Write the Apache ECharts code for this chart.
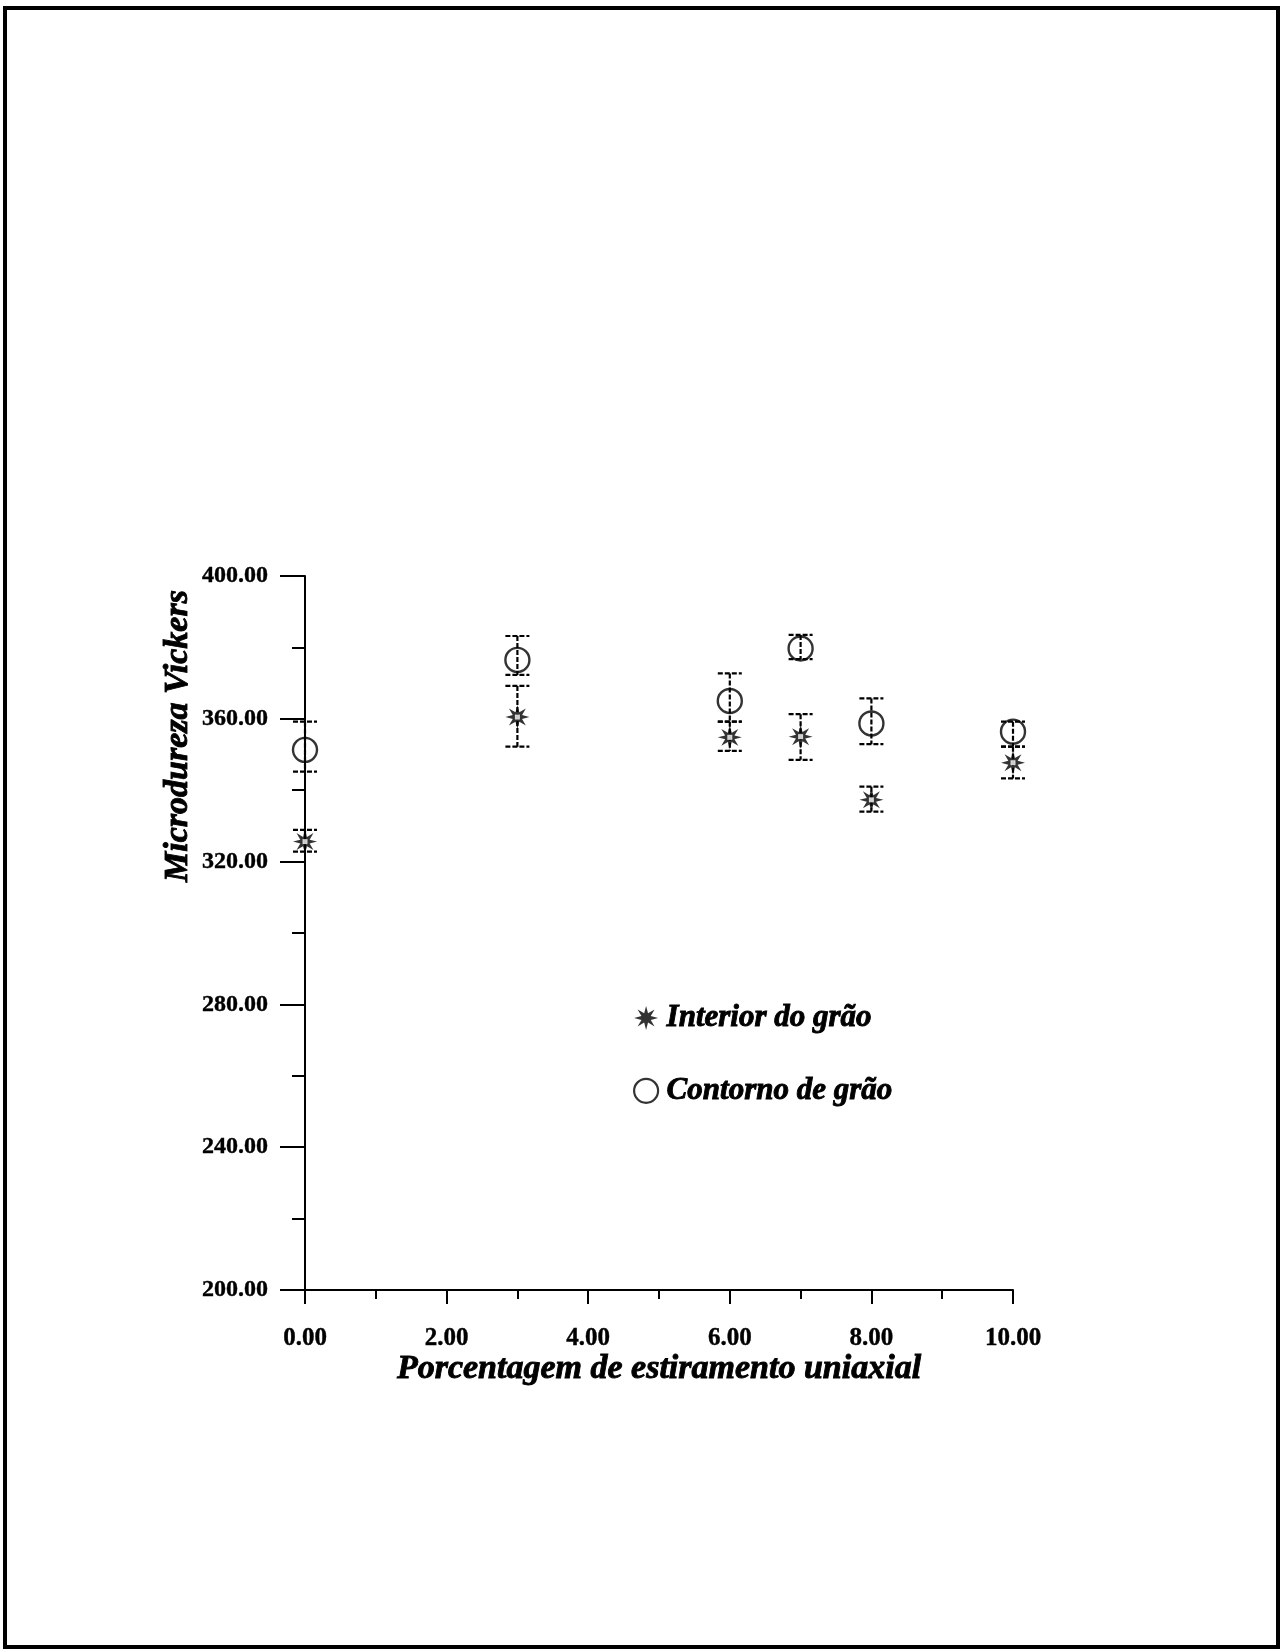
<!DOCTYPE html>
<html>
<head>
<meta charset="utf-8">
<script src="https://cdn.jsdelivr.net/npm/echarts@6/dist/echarts.min.js"></script>
<style>
  html, body { margin: 0; padding: 0; background: #fff; }
  #chart { width: 1285px; height: 1651px; }
</style>
</head>
<body>
<div id="chart"></div>
<script>
// Percentagem de estiramento uniaxial (eixo x)
const strain = [0, 3, 6, 7, 8, 10];

// Interior do grão: média e barras de erro (HV)
const interiorMean = [325.6, 360.5, 354.8, 355.0, 337.3, 347.7];
const interiorLow  = [322.8, 352.2, 351.0, 348.5, 334.0, 343.3];
const interiorHigh = [328.9, 369.2, 359.2, 361.3, 341.0, 352.2];

// Contorno de grão: média e barras de erro (HV)
const contornoMean = [351.3, 376.5, 365.0, 379.7, 358.7, 356.4];
const contornoLow  = [345.2, 372.3, 359.2, 376.7, 352.9, 352.2];
const contornoHigh = [359.2, 383.2, 372.7, 383.5, 365.7, 359.2];

// Eixos
const xTicks = { min: 0, max: 10, interval: 2 };
const yTicks = { min: 200, max: 400, interval: 40 };

const serif = '"Liberation Serif", "DejaVu Serif", serif';
const heavy = { textBorderColor: '#000', textBorderWidth: 0.9 };

// Asterisco de 8 pontas usado como marcador
function starPath() {
  const pts = [];
  for (let i = 0; i < 16; i++) {
    const a = i * Math.PI / 8 - Math.PI / 2;
    const r = i % 2 === 0 ? 10 : 4.2;
    pts.push((10 + r * Math.cos(a)).toFixed(2) + ' ' + (10 + r * Math.sin(a)).toFixed(2));
  }
  return 'path://M' + pts.join(' L') + ' Z';
}
const STAR = starPath();

function pairs(xs, ys) { return xs.map((x, i) => [x, ys[i]]); }
function bars(xs, lo, hi) { return xs.map((x, i) => [x, lo[i], hi[i]]); }

// Barra de erro vertical com traços horizontais nas extremidades
function errorBar(params, api) {
  const x = api.value(0);
  const top = api.coord([x, api.value(2)]);
  const bot = api.coord([x, api.value(1)]);
  const half = 12;
  const style = { stroke: '#000', lineWidth: 2.2, lineDash: [5, 2] };
  return {
    type: 'group',
    children: [
      { type: 'line', shape: { x1: top[0], y1: top[1], x2: bot[0], y2: bot[1] }, style: style },
      { type: 'line', shape: { x1: top[0] - half, y1: top[1], x2: top[0] + half, y2: top[1] }, style: style },
      { type: 'line', shape: { x1: bot[0] - half, y1: bot[1], x2: bot[0] + half, y2: bot[1] }, style: style }
    ]
  };
}

const chart = echarts.init(document.getElementById('chart'), null, { renderer: 'canvas' });

chart.setOption({
  backgroundColor: '#fff',
  animation: false,
  graphic: [
    {
      type: 'rect',
      shape: { x: 5, y: 8, width: 1273, height: 1639 },
      style: { fill: 'transparent', stroke: '#000', lineWidth: 4 },
      silent: true
    },
    {
      type: 'text',
      x: 178, y: 736,
      rotation: Math.PI / 2,
      style: {
        text: 'Microdureza Vickers',
        fill: '#000',
        stroke: '#000',
        lineWidth: 0.9,
        font: 'italic bold 34px ' + serif,
        align: 'center',
        verticalAlign: 'middle'
      }
    }
  ],
  grid: { left: 305, top: 576, width: 708, height: 714, containLabel: false },
  legend: {
    orient: 'vertical',
    left: 628,
    top: 997,
    itemGap: 41,
    itemWidth: 31,
    itemHeight: 24,
    textStyle: Object.assign({ fontFamily: serif, fontStyle: 'italic', fontWeight: 'bold', fontSize: 31, color: '#000' }, heavy),
    data: [
      { name: 'Interior do grão', icon: STAR, itemStyle: { color: '#000' } },
      { name: 'Contorno de grão', icon: 'circle', itemStyle: { color: '#fff', borderColor: '#000', borderWidth: 2.2 } }
    ]
  },
  xAxis: {
    type: 'value',
    min: xTicks.min, max: xTicks.max, interval: xTicks.interval,
    name: 'Porcentagem de estiramento uniaxial',
    nameLocation: 'middle',
    nameGap: 62,
    nameTextStyle: Object.assign({ fontFamily: serif, fontStyle: 'italic', fontWeight: 'bold', fontSize: 34, color: '#000' }, heavy),
    axisLine: { onZero: false, lineStyle: { color: '#000', width: 2 } },
    axisTick: { show: true, inside: false, length: 14, lineStyle: { color: '#000', width: 2 } },
    minorTick: { show: true, splitNumber: 2, length: 9, lineStyle: { color: '#000', width: 2 } },
    axisLabel: {
      margin: 36,
      fontFamily: serif, fontWeight: 'bold', fontSize: 25, color: '#000',
      textBorderColor: '#000', textBorderWidth: 0.4,
      formatter: v => v.toFixed(2)
    },
    splitLine: { show: false }
  },
  yAxis: {
    type: 'value',
    min: yTicks.min, max: yTicks.max, interval: yTicks.interval,
    axisLine: { onZero: false, lineStyle: { color: '#000', width: 2 } },
    axisTick: { show: true, inside: false, length: 25, lineStyle: { color: '#000', width: 2 } },
    minorTick: { show: true, splitNumber: 2, length: 13, lineStyle: { color: '#000', width: 2 } },
    axisLabel: {
      margin: 37,
      fontFamily: serif, fontWeight: 'bold', fontSize: 24, color: '#000',
      textBorderColor: '#000', textBorderWidth: 0.4,
      formatter: v => v.toFixed(2)
    },
    splitLine: { show: false }
  },
  series: [
    {
      name: 'Interior do grão',
      type: 'scatter',
      symbol: STAR,
      symbolSize: 24,
      itemStyle: { color: '#000' },
      z: 4,
      data: pairs(strain, interiorMean)
    },
    {
      name: 'Interior centro',
      type: 'scatter',
      symbol: 'rect',
      symbolSize: 5,
      itemStyle: { color: '#fff' },
      z: 5,
      silent: true,
      data: pairs(strain, interiorMean)
    },
    {
      name: 'Contorno de grão',
      type: 'scatter',
      symbol: 'circle',
      symbolSize: 24,
      itemStyle: { color: 'rgba(255,255,255,0)', borderColor: '#000', borderWidth: 2.4 },
      z: 4,
      data: pairs(strain, contornoMean)
    },
    {
      name: 'Interior erro',
      type: 'custom',
      renderItem: errorBar,
      z: 3,
      silent: true,
      data: bars(strain, interiorLow, interiorHigh)
    },
    {
      name: 'Contorno erro',
      type: 'custom',
      renderItem: errorBar,
      z: 3,
      silent: true,
      data: bars(strain, contornoLow, contornoHigh)
    }
  ]
});
</script>
</body>
</html>
